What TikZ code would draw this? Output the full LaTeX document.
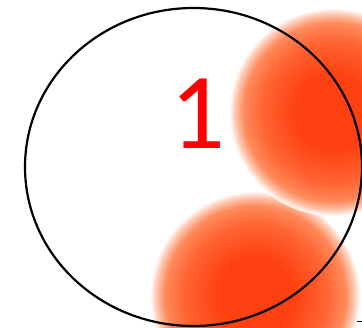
\documentclass[tikz,border=0pt]{standalone}
\usepackage{fontspec}
\newfontfamily\calfont{Carlito}
\definecolor{blobcore}{RGB}{255,64,16}
\definecolor{blobmid}{RGB}{255,100,50}
\definecolor{blobedge}{RGB}{255,138,92}
\definecolor{blobfade}{RGB}{255,200,178}
\pgfdeclareradialshading{blob}{\pgfpoint{0bp}{0bp}}{%
  color(0bp)=(blobcore); color(9bp)=(blobcore); color(17bp)=(blobmid);
  color(21.5bp)=(blobedge); color(23.6bp)=(blobfade); color(25bp)=(white);
  color(50bp)=(white)}

\tikzstyle{spot} = [shading=blob]
\tikzstyle{rim} = [draw=black, line width=2.2pt]
\tikzstyle{digit} = [text=red, font=\calfont\fontsize{108}{108}\selectfont, inner sep=0pt]

\begin{document}
\begin{tikzpicture}[x=1pt, y=-1pt]
\useasboundingbox (0,0) rectangle (362,328);
\clip (0,0) rectangle (362,328);
% blurred spots
\shade[spot] (255,296) circle (105);
\shade[spot] (333,112) circle (104);
% outline
\draw[rim] (193.5,167) ellipse (168.5 and 159);
\node[digit] (count) at (198,114) {1};
\draw[line width=0.6pt] (357,321) -- (362,321);
\end{tikzpicture}
\end{document}
